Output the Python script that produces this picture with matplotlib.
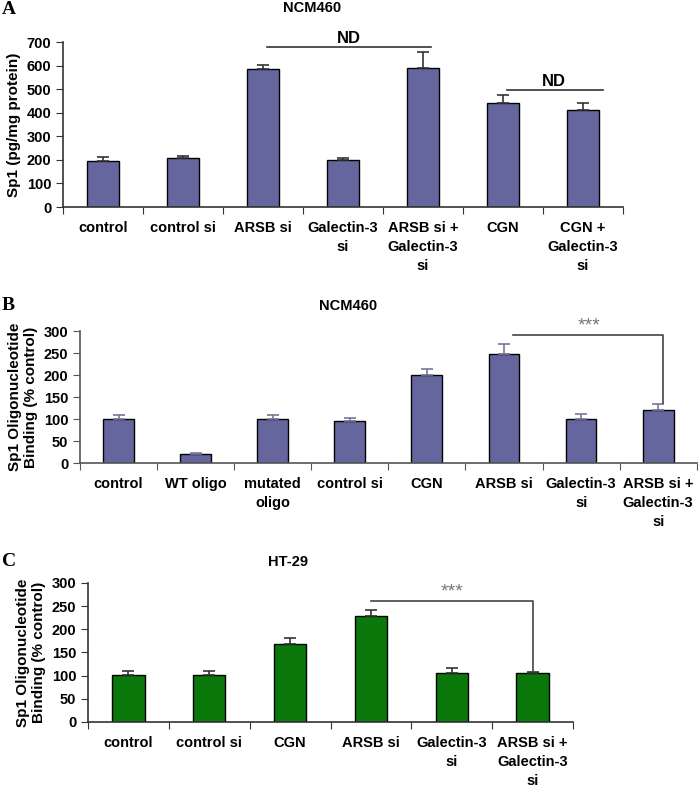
import numpy as np
import matplotlib.pyplot as plt

plt.rcParams['font.family'] = ['Liberation Sans', 'DejaVu Sans']
plt.rcParams['font.weight'] = 'bold'

# panel A data
a_labels = ["control", "control si", "ARSB si", "Galectin-3\nsi",
            "ARSB si +\nGalectin-3\nsi", "CGN", "CGN +\nGalectin-3\nsi"]
a_vals = [197, 207, 585, 200, 588, 440, 410]
a_err = [15, 10, 18, 10, 70, 35, 33]

# panel B data
b_labels = ["control", "WT oligo", "mutated\noligo", "control si", "CGN",
            "ARSB si", "Galectin-3\nsi", "ARSB si +\nGalectin-3\nsi"]
b_vals = [101, 20, 101, 96, 200, 248, 101, 121]
b_err = [9, 3, 9, 7, 13, 22, 10, 14]

# panel C data
c_labels = ["control", "control si", "CGN", "ARSB si", "Galectin-3\nsi",
            "ARSB si +\nGalectin-3\nsi"]
c_vals = [101, 101, 169, 229, 106, 106]
c_err = [8, 8, 13, 13, 11, 2]

purple = "#66669e"
green = "#0a780a"

fig = plt.figure(figsize=(7, 7.88), dpi=100)


def panel(rect, labels, vals, errs, color, ymax, ystep, ylabel, spine_col, err_col):
    ax = fig.add_axes(rect)
    x = np.arange(len(vals))
    ax.bar(x, vals, width=0.4, color=color, edgecolor="black", linewidth=1,
           yerr=[np.zeros(len(errs)), errs], error_kw=dict(ecolor=err_col, elinewidth=1.2, capsize=4, capthick=1.2))
    ax.set_xlim(-0.5, len(vals) - 0.5)
    ax.set_ylim(0, ymax)
    ax.set_yticks(np.arange(0, ymax + 1, ystep))
    ax.set_xticks(np.arange(len(vals) + 1) - 0.5, minor=False)
    ax.set_xticklabels([])
    ax.set_xticks(x, minor=True)
    ax.set_xticklabels(labels, minor=True, fontsize=10.5, fontweight="bold", linespacing=1.45, va="top")
    ax.tick_params(axis="x", which="minor", length=0, pad=10)
    ax.tick_params(axis="x", which="major", length=5, direction="out", color=spine_col)
    ax.tick_params(axis="y", length=5, direction="out", labelsize=10.5, color=spine_col)
    for t in ax.get_yticklabels():
        t.set_fontweight("bold")
    for s in ["top", "right"]:
        ax.spines[s].set_visible(False)
    for s in ["left", "bottom"]:
        ax.spines[s].set_color(spine_col)
        ax.spines[s].set_linewidth(1.2)
    ax.set_ylabel(ylabel, fontsize=11, fontweight="bold", labelpad=4)
    return ax


# A
axA = panel([0.09, 0.7373, 0.8, 0.2094], a_labels, a_vals, a_err, purple, 700, 100,
            "Sp1 (pg/mg protein)", "#333333", "#333333")
axA.plot([2.05, 4.1], [679, 679], color="#333333", lw=1.2)
axA.text(3.07, 683, "ND", ha="center", va="bottom", fontsize=12, fontweight="bold")
axA.plot([5.05, 6.25], [496, 496], color="#333333", lw=1.2)
axA.text(5.63, 500, "ND", ha="center", va="bottom", fontsize=12, fontweight="bold")

# B
axB = panel([0.1143, 0.4124, 0.881, 0.1675], b_labels, b_vals, b_err, purple, 300, 50,
            "Sp1 Oligonucleotide\nBinding (% control)", "#555555", "#777799")
axB.plot([5.12, 7.06, 7.06], [291, 291, 136], color="#444444", lw=1.2)
axB.text(6.1, 293, "***", ha="center", va="bottom", fontsize=14, color="#777777", fontweight="normal")

# C
axC = panel([0.1257, 0.0838, 0.693, 0.1764], c_labels, c_vals, c_err, green, 300, 50,
            "Sp1 Oligonucleotide\nBinding (% control)", "#333333", "#333333")
axC.plot([3.0, 5.0, 5.0], [260, 260, 108], color="#444444", lw=1.2)
axC.text(4.0, 262, "***", ha="center", va="bottom", fontsize=14, color="#777777", fontweight="normal")

# titles and panel letters
fig.text(312 / 700, 1 - 8 / 788, "NCM460", ha="center", va="center", fontsize=10.5, fontweight="bold")
fig.text(348 / 700, 1 - 306 / 788, "NCM460", ha="center", va="center", fontsize=10.5, fontweight="bold")
fig.text(288 / 700, 1 - 562 / 788, "HT-29", ha="center", va="center", fontsize=10.5, fontweight="bold")
for lab, yy in [("A", 10), ("B", 305), ("C", 561)]:
    fig.text(2 / 700, 1 - yy / 788, lab, ha="left", va="center", fontsize=14,
             fontweight="bold", family=["Liberation Serif", "DejaVu Serif"])

fig.savefig("out.png", dpi=100)
